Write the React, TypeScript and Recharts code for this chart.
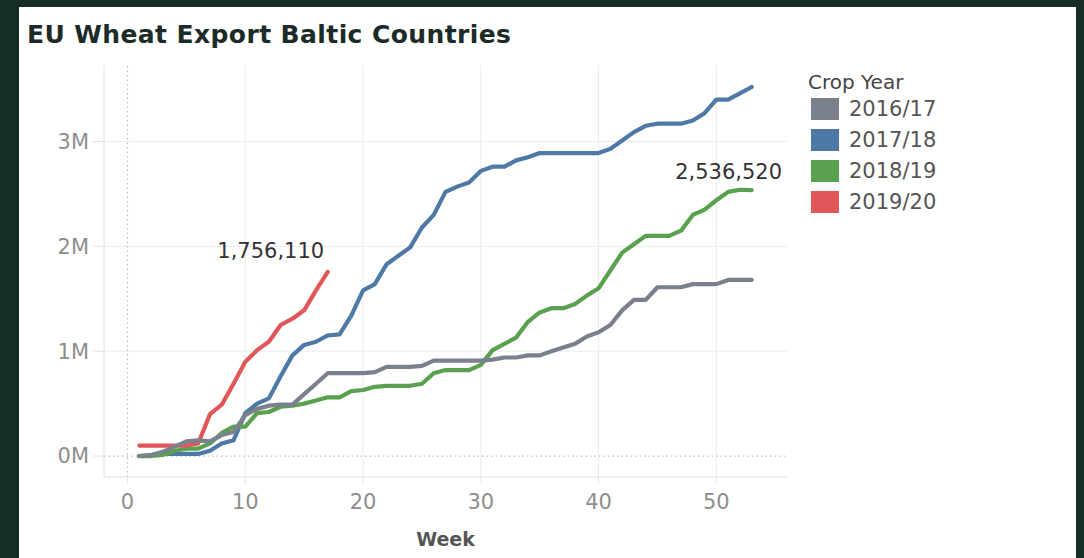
import React from 'react';
import { LineChart, Line, XAxis, YAxis, CartesianGrid, ReferenceLine, LabelList } from 'recharts';

const weeks = [
  1, 2, 3, 4, 5, 6, 7, 8, 9, 10, 11, 12, 13, 14, 15, 16, 17, 18, 19, 20,
  21, 22, 23, 24, 25, 26, 27, 28, 29, 30, 31, 32, 33, 34, 35, 36, 37, 38, 39, 40,
  41, 42, 43, 44, 45, 46, 47, 48, 49, 50, 51, 52, 53,
];

const cropYears = ['2016/17', '2017/18', '2018/19', '2019/20'];

const exports1617 = [
  0, 10000, 40000, 90000, 140000, 150000, 140000, 200000, 230000, 390000,
  450000, 480000, 490000, 490000, 590000, 690000, 790000, 790000, 790000, 790000,
  800000, 850000, 850000, 850000, 860000, 910000, 910000, 910000, 910000, 910000,
  920000, 940000, 940000, 960000, 960000, 1000000, 1035000, 1070000, 1140000, 1180000,
  1250000, 1390000, 1490000, 1490000, 1610000, 1610000, 1610000, 1640000, 1640000, 1640000,
  1680000, 1680000, 1680000,
];

const exports1718 = [
  0, 10000, 20000, 20000, 20000, 20000, 50000, 120000, 150000, 410000,
  500000, 550000, 760000, 960000, 1060000, 1090000, 1150000, 1160000, 1340000, 1580000,
  1640000, 1830000, 1910000, 1990000, 2180000, 2300000, 2520000, 2570000, 2610000, 2720000,
  2760000, 2760000, 2820000, 2850000, 2890000, 2890000, 2890000, 2890000, 2890000, 2890000,
  2930000, 3010000, 3090000, 3150000, 3170000, 3170000, 3170000, 3200000, 3270000, 3400000,
  3400000, 3460000, 3520000,
];

const exports1819 = [
  0, 0, 10000, 50000, 70000, 70000, 120000, 220000, 280000, 280000,
  410000, 420000, 470000, 480000, 500000, 530000, 560000, 560000, 620000, 630000,
  660000, 670000, 670000, 670000, 690000, 790000, 820000, 820000, 820000, 870000,
  1010000, 1070000, 1130000, 1280000, 1370000, 1410000, 1410000, 1450000, 1530000, 1600000,
  1770000, 1940000, 2020000, 2100000, 2100000, 2100000, 2150000, 2300000, 2350000, 2440000,
  2520000, 2540000, 2536520,
];

const exports1920 = [
  100000, 100000, 100000, 100000, 100000, 120000, 400000, 490000, 690000, 900000,
  1010000, 1090000, 1250000, 1310000, 1390000, 1580000, 1756110,
];

const xTicks = [0, 10, 20, 30, 40, 50];
const yTicks = [0, 1000000, 2000000, 3000000];
const gridX = [10, 20, 30, 40, 50];
const gridY = [1000000, 2000000, 3000000];

const colors = ['#7a808c', '#4e79a7', '#59a14f', '#e15759'];

const data = weeks.map((w, i) => ({
  week: w,
  s1617: exports1617[i],
  s1718: exports1718[i],
  s1819: exports1819[i],
  s1920: i < exports1920.length ? exports1920[i] : null,
}));

const FONT = '"DejaVu Sans", sans-serif';

const makeEndLabel = (lastIndex: number, dx: number, dy: number) => (props: any) => {
  const { x, y, index, value } = props;
  if (index !== lastIndex || value == null) return <g key={`l-${index}`} />;
  return (
    <text
      key={`l-${index}`}
      x={x + dx}
      y={y + dy}
      textAnchor="middle"
      fontFamily={FONT}
      fontSize={21}
      fill="#333"
    >
      {Number(value).toLocaleString('en-US')}
    </text>
  );
};

export default function App() {
  return (
    <div
      style={{
        position: 'fixed',
        left: 0,
        top: 0,
        width: 1084,
        height: 558,
        background: '#172e28',
        overflow: 'hidden',
        fontFamily: FONT,
      }}
    >
      <div style={{ position: 'absolute', left: 19, top: 7, width: 1057, height: 551, background: '#ffffff' }} />
      <div
        style={{
          position: 'absolute',
          left: 27,
          top: 20,
          fontSize: 25,
          lineHeight: '29px',
          fontWeight: 'bold',
          letterSpacing: 0.4,
          color: '#1c2b27',
          whiteSpace: 'nowrap',
        }}
      >
        EU Wheat Export Baltic Countries
      </div>
      <div style={{ position: 'absolute', left: 0, top: 0 }}>
        <LineChart width={1084} height={558} data={data} margin={{ top: 65, right: 297, bottom: 41, left: 0 }}>
          <CartesianGrid
            horizontalValues={gridY}
            verticalValues={gridX}
            stroke="#ececec"
            strokeWidth={1}
          />
          <XAxis
            dataKey="week"
            type="number"
            domain={[-2, 56]}
            ticks={xTicks}
            allowDataOverflow
            height={40}
            tickSize={6}
            tickMargin={11}
            axisLine={{ stroke: '#e2e2e2' }}
            tickLine={{ stroke: '#e2e2e2' }}
            tick={{ fill: '#8e8e8e', fontSize: 21, fontFamily: FONT }}
            label={{
              value: 'Week',
              position: 'bottom',
              offset: 16,
              fill: '#555',
              fontSize: 19,
              fontWeight: 'bold',
              fontFamily: FONT,
            }}
          />
          <YAxis
            type="number"
            domain={[-200000, 3730000]}
            ticks={yTicks}
            allowDataOverflow
            width={104}
            tickSize={11}
            tickMargin={4}
            axisLine={{ stroke: '#e2e2e2' }}
            tickLine={{ stroke: '#e2e2e2' }}
            tick={{ fill: '#8e8e8e', fontSize: 21, fontFamily: FONT }}
            tickFormatter={(v: number) => `${Math.round(v / 1000000)}M`}
          />
          <ReferenceLine y={0} stroke="#bdbdbd" strokeDasharray="1.5 3" strokeWidth={1.2} />
          <ReferenceLine x={0} stroke="#bdbdbd" strokeDasharray="1.5 3" strokeWidth={1.2} />
          <Line
            dataKey="s1718"
            name={cropYears[1]}
            stroke={colors[1]}
            strokeWidth={4.2}
            dot={false}
            activeDot={false}
            type="linear"
            strokeLinejoin="round"
            strokeLinecap="round"
            isAnimationActive={false}
          />
          <Line
            dataKey="s1819"
            name={cropYears[2]}
            stroke={colors[2]}
            strokeWidth={4.2}
            dot={false}
            activeDot={false}
            type="linear"
            strokeLinejoin="round"
            strokeLinecap="round"
            isAnimationActive={false}
          >
            <LabelList dataKey="s1819" content={makeEndLabel(exports1819.length - 1, -23, -11)} />
          </Line>
          <Line
            dataKey="s1920"
            name={cropYears[3]}
            stroke={colors[3]}
            strokeWidth={4.2}
            dot={false}
            activeDot={false}
            type="linear"
            strokeLinejoin="round"
            strokeLinecap="round"
            isAnimationActive={false}
          >
            <LabelList dataKey="s1920" content={makeEndLabel(exports1920.length - 1, -57, -14)} />
          </Line>
          <Line
            dataKey="s1617"
            name={cropYears[0]}
            stroke={colors[0]}
            strokeWidth={4.2}
            dot={false}
            activeDot={false}
            type="linear"
            strokeLinejoin="round"
            strokeLinecap="round"
            isAnimationActive={false}
          />
        </LineChart>
      </div>
      <div style={{ position: 'absolute', left: 808, top: 71, fontSize: 20, lineHeight: '23px', color: '#444', whiteSpace: 'nowrap' }}>
        Crop Year
      </div>
      {cropYears.map((c, i) => (
        <div
          key={c}
          style={{ position: 'absolute', left: 811, top: 98 + i * 31, height: 22, display: 'flex', alignItems: 'center' }}
        >
          <div style={{ width: 28, height: 22, background: colors[i] }} />
          <span style={{ marginLeft: 10, fontSize: 21, lineHeight: '22px', color: '#555', whiteSpace: 'nowrap' }}>{c}</span>
        </div>
      ))}
    </div>
  );
}
